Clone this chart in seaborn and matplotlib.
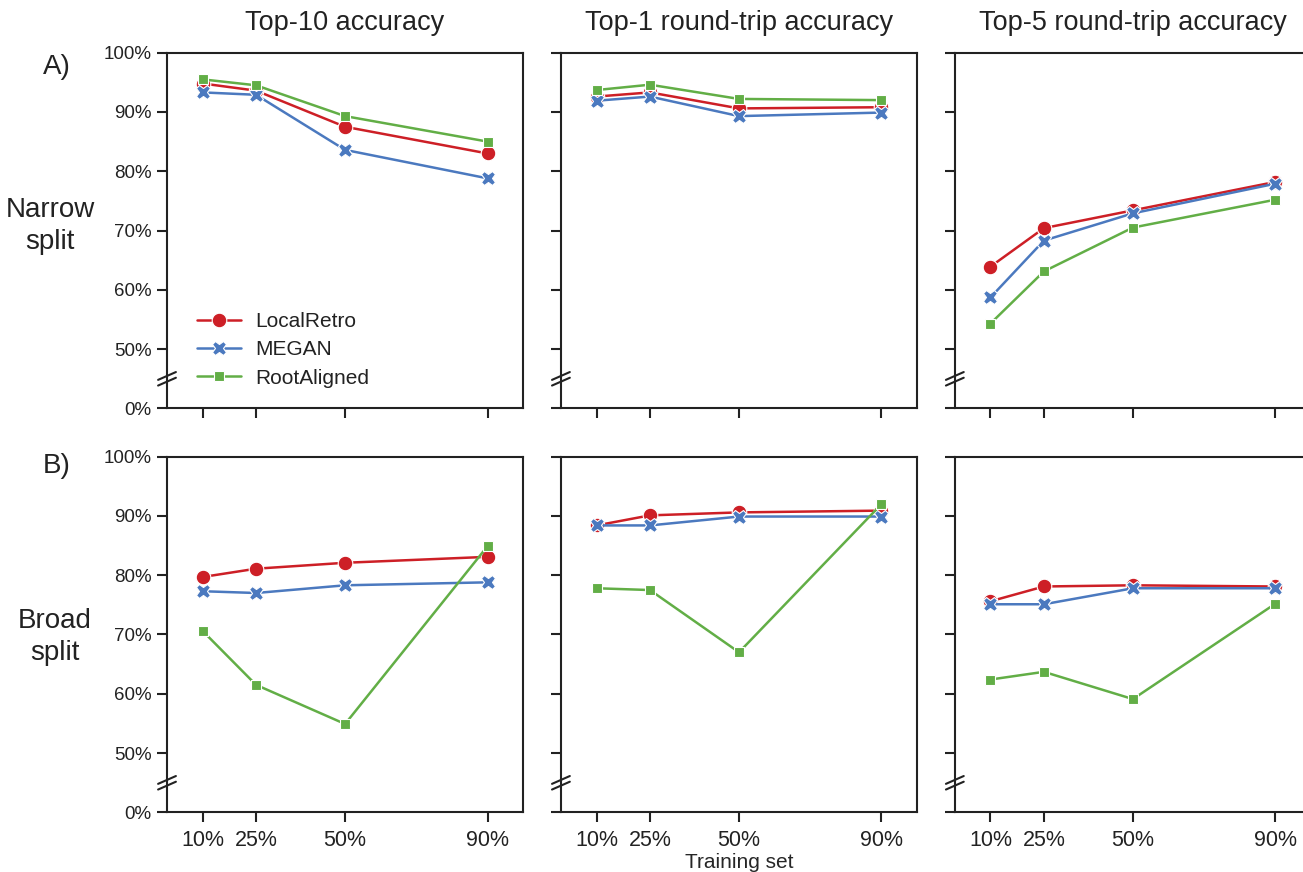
import numpy as np
import pandas as pd
import matplotlib
matplotlib.use("Agg")
import matplotlib.pyplot as plt
import seaborn as sns

# ---------------- data ----------------
train_sizes = [10, 25, 50, 90]
x_tick_labels = ["10%", "25%", "50%", "90%"]
models = ["LocalRetro", "MEGAN", "RootAligned"]
metrics = ["Top-10 accuracy", "Top-1 round-trip accuracy", "Top-5 round-trip accuracy"]
splits = ["Narrow", "Broad"]

# Narrow split
narrow_top10_localretro = [94.8, 93.6, 87.5, 83.0]
narrow_top10_megan = [93.3, 92.9, 83.6, 78.8]
narrow_top10_rootaligned = [95.5, 94.5, 89.3, 85.0]

narrow_rt1_localretro = [92.6, 93.3, 90.6, 90.8]
narrow_rt1_megan = [91.9, 92.6, 89.3, 89.9]
narrow_rt1_rootaligned = [93.7, 94.6, 92.2, 92.0]

narrow_rt5_localretro = [63.9, 70.4, 73.4, 78.2]
narrow_rt5_megan = [58.7, 68.3, 72.9, 77.9]
narrow_rt5_rootaligned = [54.3, 63.1, 70.5, 75.2]

# Broad split
broad_top10_localretro = [79.7, 81.1, 82.1, 83.1]
broad_top10_megan = [77.3, 77.0, 78.3, 78.8]
broad_top10_rootaligned = [70.6, 61.5, 54.9, 84.9]

broad_rt1_localretro = [88.4, 90.1, 90.6, 90.9]
broad_rt1_megan = [88.4, 88.4, 89.9, 89.9]
broad_rt1_rootaligned = [77.8, 77.5, 67.0, 92.0]

broad_rt5_localretro = [75.6, 78.1, 78.3, 78.1]
broad_rt5_megan = [75.1, 75.1, 77.8, 77.8]
broad_rt5_rootaligned = [62.4, 63.7, 59.1, 75.2]

y_ticks = [40, 50, 60, 70, 80, 90, 100]
y_tick_labels = ["0%", "50%", "60%", "70%", "80%", "90%", "100%"]

palette = {"LocalRetro": "#cd1f26", "MEGAN": "#4b79bf", "RootAligned": "#62ae46"}
marker_map = {"LocalRetro": "o", "MEGAN": "X", "RootAligned": (4, 0, 45)}

series = {
    ("Narrow", metrics[0]): [narrow_top10_localretro, narrow_top10_megan, narrow_top10_rootaligned],
    ("Narrow", metrics[1]): [narrow_rt1_localretro, narrow_rt1_megan, narrow_rt1_rootaligned],
    ("Narrow", metrics[2]): [narrow_rt5_localretro, narrow_rt5_megan, narrow_rt5_rootaligned],
    ("Broad", metrics[0]): [broad_top10_localretro, broad_top10_megan, broad_top10_rootaligned],
    ("Broad", metrics[1]): [broad_rt1_localretro, broad_rt1_megan, broad_rt1_rootaligned],
    ("Broad", metrics[2]): [broad_rt5_localretro, broad_rt5_megan, broad_rt5_rootaligned],
}

rows = []
for (split, metric), vals in series.items():
    for model, v in zip(models, vals):
        for ts, val in zip(train_sizes, v):
            rows.append({"split": split, "metric": metric, "model": model,
                         "train": ts, "acc": val})
df = pd.DataFrame(rows)

# ---------------- style ----------------
sns.set_theme(style="ticks")
plt.rcParams["font.family"] = ["Liberation Sans", "DejaVu Sans"]
plt.rcParams["axes.edgecolor"] = "#222222"
plt.rcParams["axes.linewidth"] = 1.5
plt.rcParams["xtick.major.width"] = 1.5
plt.rcParams["ytick.major.width"] = 1.5
plt.rcParams["xtick.major.size"] = 7
plt.rcParams["ytick.major.size"] = 7
plt.rcParams["xtick.color"] = "#222222"
plt.rcParams["ytick.color"] = "#222222"
plt.rcParams["text.color"] = "#222222"

W, H = 1303, 872
fig, axes = plt.subplots(2, 3, figsize=(W / 100, H / 100), dpi=100,
                         sharex=True, sharey=True)
fig.subplots_adjust(left=167 / W, right=(954 + 357) / W,
                    top=1 - 52.7 / H, bottom=1 - 812.3 / H,
                    wspace=0.106, hspace=0.136)

for i, split in enumerate(splits):
    for j, metric in enumerate(metrics):
        ax = axes[i, j]
        sub = df[(df.split == split) & (df.metric == metric)]
        sns.lineplot(data=sub, x="train", y="acc", hue="model", style="model",
                     hue_order=models, style_order=models, palette=palette,
                     markers=marker_map, dashes=False, markersize=10.5,
                     linewidth=1.8, markeredgecolor="white", markeredgewidth=0.8,
                     ax=ax, legend=(i == 0 and j == 0))
        ax.set_xlim(0, 100)
        ax.set_ylim(40, 100)
        ax.set_xticks(train_sizes)
        ax.set_xticklabels(x_tick_labels)
        ax.set_yticks(y_ticks)
        ax.set_yticklabels(y_tick_labels)
        ax.tick_params(axis="x", labelsize=15.5, pad=6)
        ax.tick_params(axis="y", labelsize=13.5, pad=4)
        ax.set_xlabel("")
        ax.set_ylabel("")
        for s in ax.spines.values():
            s.set_visible(True)
        if i == 0:
            ax.set_title(metric, fontsize=19.5, pad=16)
        # axis break marks
        yb = 0.083
        for dy in (-0.008, 0.008):
            ax.plot([-0.025, 0.025], [yb + dy - 0.011, yb + dy + 0.011],
                    transform=ax.transAxes, color="#222222", lw=1.5,
                    clip_on=False, zorder=5)

axes[1, 1].set_xlabel("Training set", fontsize=15, labelpad=1)

leg = axes[0, 0].legend(loc="lower left", bbox_to_anchor=(0.085, 0.058),
                        frameon=False, fontsize=15, handlelength=2.1,
                        handletextpad=0.7, labelspacing=0.45,
                        borderaxespad=0, borderpad=0, title=None)

fig.text(57 / W, 1 - 67 / H, "A)", fontsize=20, ha="center", va="center")
fig.text(50 / W, 1 - 226 / H, "Narrow\nsplit", fontsize=20, ha="center",
         va="center", linespacing=1.3)
fig.text(57 / W, 1 - 466 / H, "B)", fontsize=20, ha="center", va="center")
fig.text(55 / W, 1 - 637 / H, "Broad\nsplit", fontsize=20, ha="center",
         va="center", linespacing=1.3)

fig.savefig("out.png", dpi=100)
